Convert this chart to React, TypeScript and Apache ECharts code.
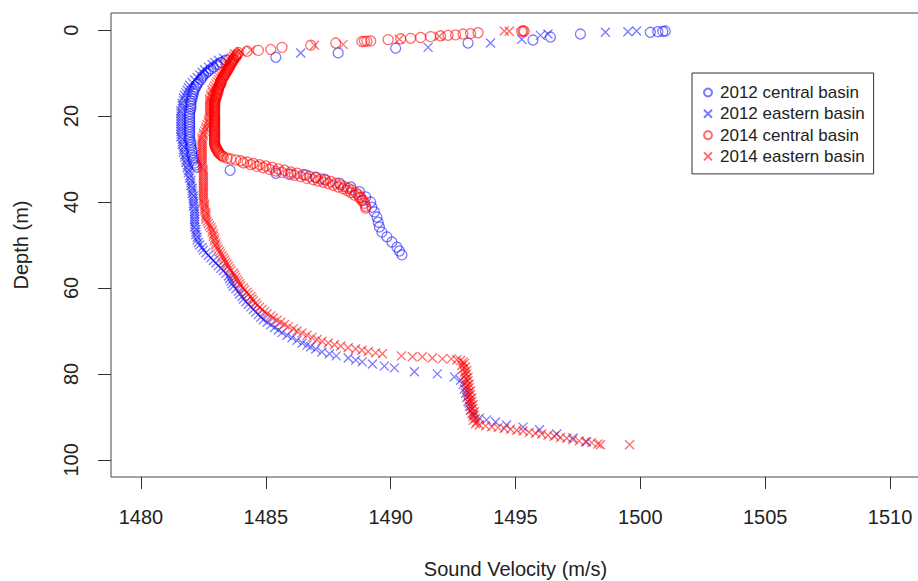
import React, { useEffect, useRef } from "react";
import * as echarts from "echarts";

const xTicks = [1480, 1485, 1490, 1495, 1500, 1505, 1510];
const yTicks = [0, 20, 40, 60, 80, 100];
const seriesNames = ["2012 central basin", "2012 eastern basin", "2014 central basin", "2014 eastern basin"];

// [sound velocity (m/s), depth (m)]
const central2012 = [
  [1501.0, 0.2], [1500.9, 0.3], [1500.7, 0.35], [1500.4, 0.5], [1497.6, 0.9], [1496.4, 1.6], [1495.7, 2.3], [1493.1, 3.0], [1490.2, 4.2], [1487.9, 5.3], [1485.4, 6.3],
  [1483.4, 7.0], [1483.2, 7.5], [1483.05, 8.0], [1482.9, 8.6], [1482.8, 9.0], [1482.7, 9.5], [1482.6, 10.0], [1482.5, 10.5], [1482.45, 11.0], [1482.4, 11.5], [1482.3, 12.1], [1482.25, 12.6], [1482.2, 13.2], [1482.15, 13.7], [1482.1, 14.3], [1482.1, 14.8], [1482.05, 15.4], [1482.05, 16.0], [1482.0, 16.5], [1482.0, 17.1], [1482.0, 17.7], [1482.0, 18.3], [1481.95, 18.9], [1481.95, 19.5], [1481.95, 20.1], [1481.95, 20.7], [1481.95, 21.3], [1481.95, 21.9], [1481.95, 22.5], [1481.95, 23.1], [1481.95, 23.7], [1481.95, 24.3], [1481.95, 24.9], [1481.95, 25.5], [1482.0, 26.1], [1482.0, 26.7], [1482.0, 27.3], [1482.05, 27.9], [1482.05, 28.5], [1482.05, 29.1], [1482.1, 29.7], [1482.1, 30.3], [1482.15, 30.9], [1482.2, 31.4], [1482.25, 31.9],
  [1483.57, 32.6], [1485.4, 33.3], [1486.0, 33.5], [1486.6, 33.7], [1487.0, 34.2], [1487.35, 34.7], [1487.95, 35.6], [1488.4, 36.5], [1488.75, 37.6], [1489.0, 38.8], [1489.2, 40.0], [1489.25, 41.2], [1489.35, 42.3], [1489.45, 43.5], [1489.5, 44.7], [1489.55, 45.8], [1489.65, 47.0], [1489.85, 48.1], [1490.05, 49.3], [1490.25, 50.5], [1490.35, 51.4], [1490.45, 52.3],
];

const eastern2012 = [
  [1499.85, 0.2], [1499.5, 0.35], [1498.6, 0.5], [1496.3, 0.9], [1496.0, 1.2], [1495.25, 2.1], [1494.0, 3.0], [1491.5, 4.0], [1486.4, 5.3],
  [1483.3, 6.5], [1483.1, 7.0], [1482.95, 7.5], [1482.85, 8.0], [1482.7, 8.6], [1482.55, 9.2], [1482.45, 9.8], [1482.35, 10.4], [1482.25, 11.0], [1482.15, 11.6], [1482.05, 12.2], [1481.95, 12.8], [1481.9, 13.4], [1481.85, 14.0], [1481.8, 14.6], [1481.75, 15.2], [1481.7, 15.8], [1481.7, 16.4], [1481.65, 17.0], [1481.65, 17.6], [1481.65, 18.2], [1481.6, 18.8], [1481.6, 19.4], [1481.6, 20.0], [1481.6, 20.6], [1481.6, 21.2], [1481.6, 21.8], [1481.6, 22.4], [1481.6, 23.0], [1481.6, 23.6], [1481.6, 24.2], [1481.6, 24.8], [1481.65, 25.4], [1481.65, 26.0], [1481.65, 26.6], [1481.7, 27.2], [1481.7, 27.8], [1481.7, 28.4], [1481.75, 29.0], [1481.75, 29.6], [1481.8, 30.2], [1481.8, 30.8], [1481.85, 31.4], [1481.85, 32.0], [1481.9, 32.6], [1481.9, 33.2], [1481.95, 33.8], [1481.95, 34.4], [1482.0, 35.0], [1482.0, 35.6], [1482.0, 36.2], [1482.05, 36.8], [1482.05, 37.4], [1482.05, 38.0], [1482.1, 38.6], [1482.1, 39.2], [1482.1, 39.8], [1482.1, 40.4], [1482.1, 41.0], [1482.15, 41.6], [1482.15, 42.2], [1482.15, 42.8], [1482.15, 43.4], [1482.15, 44.0], [1482.15, 44.6], [1482.15, 45.2], [1482.15, 45.8], [1482.2, 46.4], [1482.2, 47.0], [1482.2, 47.6], [1482.25, 48.2], [1482.25, 48.8], [1482.3, 49.4], [1482.35, 50.0], [1482.45, 50.6], [1482.5, 51.2], [1482.6, 51.8], [1482.7, 52.4], [1482.8, 53.0], [1482.9, 53.6], [1483.0, 54.2], [1483.1, 54.8], [1483.2, 55.4], [1483.3, 56.0], [1483.4, 56.6], [1483.5, 57.2], [1483.55, 57.8], [1483.6, 58.4], [1483.65, 59.0], [1483.7, 59.6], [1483.8, 60.2], [1483.9, 60.8], [1483.95, 61.4], [1484.05, 62.0], [1484.1, 62.6], [1484.2, 63.2], [1484.3, 63.8], [1484.4, 64.4], [1484.5, 65.0], [1484.6, 65.6], [1484.7, 66.2], [1484.8, 66.8], [1484.9, 67.4], [1485.05, 68.0], [1485.2, 68.6], [1485.35, 69.2], [1485.5, 69.8], [1485.65, 70.4], [1485.85, 71.0], [1486.05, 71.6], [1486.25, 72.2], [1486.46, 72.8], [1486.65, 73.3], [1486.8, 73.7], [1487.0, 74.2], [1487.25, 74.9], [1487.55, 75.3], [1487.82, 75.8], [1488.3, 76.3], [1488.6, 76.8], [1488.86, 77.2], [1489.27, 77.7], [1489.75, 78.2], [1490.15, 78.6], [1490.95, 79.5], [1491.87, 80.0], [1492.55, 80.7], [1492.8, 81.5], [1492.9, 82.5], [1492.95, 83.5], [1493.0, 84.5], [1493.05, 85.5], [1493.1, 86.5], [1493.15, 87.5], [1493.2, 88.5], [1493.3, 89.5], [1493.55, 90.3], [1493.84, 90.7], [1494.2, 91.2], [1494.64, 91.9], [1495.3, 92.4], [1495.96, 93.0], [1496.65, 94.0], [1497.3, 94.9], [1497.85, 95.8],
];

const central2014 = [
  [1495.3, 0.15], [1495.35, 0.25], [1495.25, 0.3], [1493.5, 0.6], [1493.2, 0.8], [1492.9, 0.9], [1492.6, 1.1], [1492.3, 1.2], [1492.0, 1.3], [1491.6, 1.5], [1491.2, 1.7], [1490.8, 1.9], [1490.4, 2.0], [1489.9, 2.2], [1489.2, 2.5], [1489.05, 2.55], [1488.95, 2.6], [1488.85, 2.65], [1487.8, 3.0], [1486.8, 3.5], [1485.65, 4.0], [1485.2, 4.5], [1484.7, 4.7], [1484.25, 4.9], [1483.9, 5.2],
  [1483.85, 5.6], [1483.85, 5.8], [1483.8, 6.0], [1483.8, 6.25], [1483.75, 6.5], [1483.7, 6.75], [1483.7, 7.0], [1483.65, 7.25], [1483.65, 7.5], [1483.6, 7.75], [1483.6, 8.0], [1483.55, 8.25], [1483.55, 8.5], [1483.5, 8.75], [1483.5, 9.0], [1483.45, 9.25], [1483.45, 9.5], [1483.4, 9.75], [1483.4, 10.0], [1483.35, 10.25], [1483.35, 10.5], [1483.3, 10.75], [1483.3, 11.0], [1483.25, 11.25], [1483.25, 11.5], [1483.2, 11.75], [1483.2, 12.0], [1483.2, 12.25], [1483.2, 12.5], [1483.15, 12.75], [1483.15, 13.0], [1483.1, 13.25], [1483.1, 13.5], [1483.1, 13.75], [1483.1, 14.0], [1483.05, 14.25], [1483.05, 14.5], [1483.05, 14.75], [1483.05, 15.0], [1483.0, 15.25], [1483.0, 15.5], [1483.0, 15.75], [1483.0, 16.0], [1482.95, 16.25], [1482.95, 16.5], [1482.95, 16.75], [1482.95, 17.0], [1482.95, 17.25], [1482.95, 17.5], [1482.95, 17.75], [1482.95, 18.0], [1482.95, 18.25], [1482.95, 18.5], [1482.95, 18.75], [1482.95, 19.0], [1482.95, 19.25], [1482.95, 19.5], [1482.95, 19.75], [1482.95, 20.0], [1482.95, 20.25], [1482.95, 20.5], [1482.95, 20.75], [1482.95, 21.0], [1482.95, 21.25], [1482.95, 21.5], [1482.95, 21.75], [1482.95, 22.0], [1482.95, 22.25], [1482.95, 22.5], [1482.95, 22.75], [1482.95, 23.0], [1482.95, 23.25], [1482.95, 23.5], [1482.95, 23.75], [1482.95, 24.0], [1482.95, 24.25], [1482.95, 24.5], [1482.95, 24.75], [1482.95, 25.0], [1482.95, 25.25], [1482.95, 25.5], [1482.95, 25.75], [1482.95, 26.0], [1482.95, 26.25], [1482.95, 26.5], [1482.95, 26.75], [1483.0, 27.0], [1483.0, 27.25], [1483.0, 27.5], [1483.05, 27.75], [1483.05, 28.0], [1483.1, 28.25], [1483.1, 28.5], [1483.15, 28.75], [1483.2, 29.0], [1483.25, 29.25], [1483.3, 29.5], [1483.45, 29.8], [1483.6, 30.0], [1483.8, 30.2],
  [1484.0, 30.4], [1484.1, 30.9], [1484.25, 30.7], [1484.4, 31.3], [1484.5, 31.0], [1484.65, 31.7], [1484.75, 31.3], [1484.9, 32.0], [1485.0, 31.6], [1485.15, 32.4], [1485.25, 31.9], [1485.4, 32.8], [1485.5, 32.3], [1485.65, 33.1], [1485.75, 32.6], [1485.9, 33.5], [1486.0, 33.0], [1486.15, 33.8], [1486.25, 33.3], [1486.4, 34.1], [1486.5, 33.6], [1486.65, 34.5], [1486.75, 34.0], [1486.9, 34.8], [1487.0, 34.3], [1487.1, 35.1], [1487.2, 34.6], [1487.3, 35.4], [1487.4, 34.9], [1487.5, 35.7], [1487.6, 35.2], [1487.7, 36.1], [1487.8, 35.6], [1487.9, 36.5], [1488.0, 36.0], [1488.1, 36.9], [1488.15, 36.4], [1488.25, 37.3], [1488.3, 36.8], [1488.4, 37.8], [1488.45, 37.2], [1488.55, 38.4], [1488.6, 37.8], [1488.7, 38.3], [1488.75, 39.0], [1488.8, 38.9], [1488.85, 39.7], [1488.9, 39.6], [1488.95, 40.3], [1489.0, 41.0], [1489.0, 41.4],
];

const eastern2014 = [
  [1494.75, 0.25], [1494.55, 0.2], [1491.95, 1.4], [1490.35, 2.1], [1488.1, 3.3], [1486.95, 3.5], [1484.4, 4.65], [1484.0, 5.0],
  [1483.75, 5.5], [1483.7, 6.0], [1483.65, 6.5], [1483.55, 7.0], [1483.5, 7.5], [1483.45, 8.0], [1483.4, 8.5], [1483.35, 9.0], [1483.3, 9.5], [1483.25, 10.0], [1483.2, 10.5], [1483.15, 11.0], [1483.1, 11.5], [1483.05, 12.0], [1483.0, 12.5], [1482.95, 13.0], [1482.9, 13.5], [1482.85, 14.0], [1482.85, 14.5], [1482.8, 15.0], [1482.8, 15.5], [1482.75, 16.0], [1482.75, 16.5], [1482.75, 17.0], [1482.75, 17.5], [1482.75, 18.0], [1482.75, 18.5], [1482.75, 19.0], [1482.75, 19.5], [1482.75, 20.0], [1482.75, 20.5], [1482.7, 21.0], [1482.7, 21.5], [1482.65, 22.0], [1482.6, 22.5], [1482.6, 23.0], [1482.55, 23.5], [1482.5, 24.0], [1482.5, 24.5], [1482.45, 25.0], [1482.45, 25.5], [1482.45, 26.0], [1482.45, 26.5], [1482.45, 27.0], [1482.45, 27.5], [1482.45, 28.0], [1482.45, 28.5], [1482.45, 29.0], [1482.45, 29.5], [1482.45, 30.0], [1482.45, 30.5], [1482.45, 31.0], [1482.45, 31.5], [1482.45, 32.0], [1482.5, 32.5], [1482.5, 33.0], [1482.5, 33.5], [1482.5, 34.0], [1482.5, 34.5], [1482.5, 35.0], [1482.5, 35.5], [1482.5, 36.0], [1482.5, 36.5], [1482.5, 37.0], [1482.5, 37.5], [1482.5, 38.0], [1482.5, 38.5], [1482.5, 39.0], [1482.5, 39.5], [1482.5, 40.0], [1482.55, 40.5], [1482.55, 41.0], [1482.55, 41.5], [1482.55, 42.0], [1482.6, 42.5], [1482.6, 43.0], [1482.6, 43.5], [1482.6, 44.0], [1482.65, 44.5], [1482.7, 45.0], [1482.75, 45.5], [1482.8, 46.0], [1482.85, 46.5], [1482.85, 47.0], [1482.9, 47.5], [1482.9, 48.0], [1482.95, 48.5], [1482.95, 49.0], [1483.0, 49.5], [1483.0, 50.0], [1483.05, 50.5], [1483.1, 51.0], [1483.15, 51.5], [1483.2, 52.0], [1483.25, 52.5], [1483.3, 53.0], [1483.35, 53.5], [1483.4, 54.0], [1483.45, 54.5], [1483.5, 55.0], [1483.55, 55.5], [1483.6, 56.0], [1483.7, 56.5], [1483.75, 57.0], [1483.8, 57.5], [1483.85, 58.0], [1483.9, 58.5], [1483.95, 59.0], [1484.0, 59.5], [1484.1, 60.0], [1484.15, 60.5], [1484.25, 61.0], [1484.3, 61.5], [1484.4, 62.0], [1484.45, 62.5], [1484.5, 63.0], [1484.6, 63.5], [1484.65, 64.0], [1484.75, 64.5], [1484.85, 65.0], [1484.95, 65.5], [1485.05, 66.0], [1485.2, 66.5], [1485.3, 67.0], [1485.45, 67.5], [1485.6, 68.0], [1485.75, 68.5], [1485.9, 69.0], [1486.1, 69.5], [1486.25, 70.0], [1486.45, 70.5], [1486.65, 71.0], [1486.85, 71.5], [1487.05, 72.0], [1487.25, 72.4], [1487.5, 72.8], [1487.75, 73.2], [1488.0, 73.5], [1488.3, 73.9], [1488.6, 74.2], [1488.85, 74.5], [1489.1, 74.8], [1489.4, 75.1], [1489.67, 75.3], [1490.43, 75.8], [1490.87, 76.0], [1491.27, 76.0], [1491.67, 76.3], [1492.07, 76.5], [1492.43, 76.5], [1492.65, 76.7], [1492.8, 76.9], [1492.9, 77.2],
  [1492.95, 77.6], [1492.85, 78.0], [1493.0, 78.4], [1492.9, 78.8], [1493.05, 79.2], [1492.95, 79.6], [1493.05, 80.0], [1492.95, 80.4], [1493.1, 80.8], [1493.0, 81.2], [1493.1, 81.6], [1493.0, 82.0], [1493.15, 82.4], [1493.05, 82.8], [1493.15, 83.2], [1493.05, 83.6], [1493.2, 84.0], [1493.1, 84.4], [1493.2, 84.8], [1493.1, 85.2], [1493.25, 85.6], [1493.15, 86.0], [1493.25, 86.4], [1493.15, 86.8], [1493.3, 87.2], [1493.2, 87.6], [1493.3, 88.0], [1493.2, 88.4], [1493.35, 88.8], [1493.25, 89.2], [1493.35, 89.6], [1493.3, 90.0], [1493.4, 90.4], [1493.3, 90.8], [1493.45, 91.2], [1493.4, 91.6], [1493.55, 91.9],
  [1493.8, 92.1], [1494.05, 92.3], [1494.3, 92.5], [1494.55, 92.7], [1494.8, 92.9], [1495.05, 93.1], [1495.3, 93.3], [1495.55, 93.6], [1495.8, 93.8], [1496.05, 94.0], [1496.3, 94.3], [1496.55, 94.5], [1496.8, 94.8], [1497.05, 95.0], [1497.3, 95.3], [1497.55, 95.6], [1497.8, 95.8], [1498.05, 96.0], [1498.3, 96.3], [1498.4, 96.5], [1499.57, 96.5],
];

const FONT = "'Liberation Sans', Arial, Helvetica, sans-serif";
const BLUE = "rgba(0,0,255,0.65)";
const RED = "rgba(255,0,0,0.72)";
const CROSS = "path://M0,0L10,10M10,0L0,10";

function makeSeries(name: string, data: number[][], color: string, cross: boolean) {
  return {
    name,
    type: "scatter",
    data,
    symbol: cross ? CROSS : "circle",
    symbolSize: cross ? 9 : 10,
    itemStyle: { color: "rgba(0,0,0,0)", borderColor: color, borderWidth: 1.3 },
    emphasis: { disabled: true },
  };
}

const fmt = (v: number) => String(v);

export default function App() {
  const ref = useRef<HTMLDivElement>(null);
  useEffect(() => {
    document.body.style.margin = "0";
    const chart = echarts.init(ref.current!, null, { renderer: "svg" });
    chart.setOption({
      animation: false,
      backgroundColor: "#fff",
      grid: {
        left: 111, right: -2, top: 13, bottom: 104,
        containLabel: false, outerBoundsMode: "none",
        show: true, borderColor: "#444", borderWidth: 1,
      },
      xAxis: {
        type: "value",
        min: 1478.8,
        max: 1511.2,
        axisLine: { show: false, onZero: false },
        splitLine: { show: false },
        axisTick: { show: true, customValues: xTicks, length: 12, lineStyle: { color: "#333" } },
        axisLabel: { customValues: xTicks, formatter: fmt, margin: 30, fontSize: 20, color: "#222", fontFamily: FONT },
        name: "Sound Velocity (m/s)",
        nameLocation: "middle",
        nameGap: 82,
        nameTextStyle: { fontSize: 20, color: "#222", fontFamily: FONT },
      },
      yAxis: {
        type: "value",
        inverse: true,
        min: -4,
        max: 104,
        axisLine: { show: false, onZero: false },
        splitLine: { show: false },
        axisTick: { show: true, customValues: yTicks, length: 13, lineStyle: { color: "#333" } },
        axisLabel: { customValues: yTicks, formatter: fmt, rotate: 90, margin: 30, fontSize: 20, color: "#222", fontFamily: FONT },
        name: "Depth (m)",
        nameLocation: "middle",
        nameGap: 80,
        nameTextStyle: { fontSize: 20, color: "#222", fontFamily: FONT },
      },
      legend: {
        orient: "vertical",
        left: 692,
        top: 73,
        padding: [11, 9, 9, 11],
        itemGap: 4.3,
        itemWidth: 14,
        itemHeight: 8,
        borderColor: "#333",
        borderWidth: 1,
        textStyle: { fontSize: 17, color: "#222", fontFamily: FONT, lineHeight: 17 },
        data: seriesNames,
      },
      series: [
        makeSeries(seriesNames[0], central2012, BLUE, false),
        makeSeries(seriesNames[1], eastern2012, BLUE, true),
        makeSeries(seriesNames[2], central2014, RED, false),
        makeSeries(seriesNames[3], eastern2014, RED, true),
      ],
    });
    return () => chart.dispose();
  }, []);
  return <div ref={ref} style={{ width: 918, height: 581 }} />;
}
